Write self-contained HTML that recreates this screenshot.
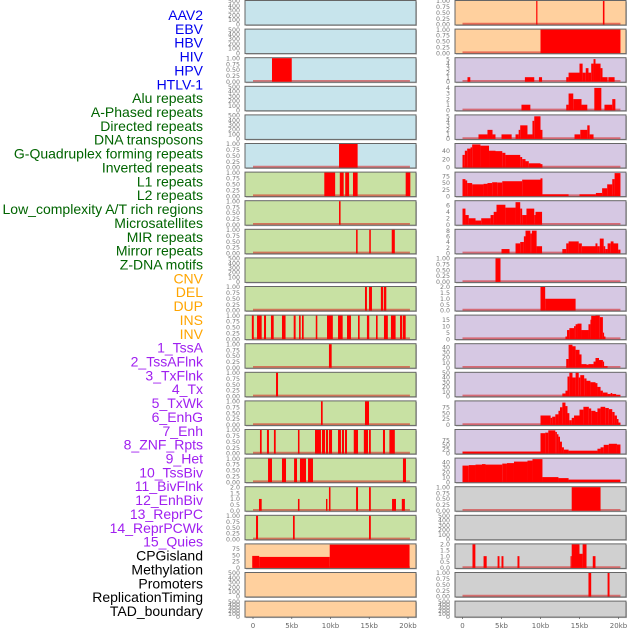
<!DOCTYPE html>
<html><head><meta charset="utf-8"><style>
html,body{margin:0;padding:0;background:#fff;width:630px;height:630px;overflow:hidden}
svg text{font-family:"DejaVu Sans","Liberation Sans",sans-serif}
svg text.lbl{font-family:"Liberation Sans",sans-serif}
</style></head><body>
<svg id="chart" width="630" height="630" viewBox="0 0 630 630" xmlns="http://www.w3.org/2000/svg">
<g id="labels"></g>
<g id="panels"></g>
<g id="xaxes"></g>
</svg>
<script>
// ---- labels ----
const trackLabels = ["AAV2","EBV","HBV","HIV","HPV","HTLV-1","Alu repeats","A-Phased repeats","Directed repeats","DNA transposons","G-Quadruplex forming repeats","Inverted repeats","L1 repeats","L2 repeats","Low_complexity A/T rich regions","Microsatellites","MIR repeats","Mirror repeats","Z-DNA motifs","CNV","DEL","DUP","INS","INV","1_TssA","2_TssAFlnk","3_TxFlnk","4_Tx","5_TxWk","6_EnhG","7_Enh","8_ZNF_Rpts","9_Het","10_TssBiv","11_BivFlnk","12_EnhBiv","13_ReprPC","14_ReprPCWk","15_Quies","CPGisland","Methylation","Promoters","ReplicationTiming","TAD_boundary"];
const labelGroups = [6,13,5,15,5];
const groupColors = ["#0000ee","#006400","#ffa500","#a020f0","#000000"];
const xTickValues = [0,5,10,15,20];
const xTickLabels = ["0","5kb","10kb","15kb","20kb"];

// ---- data: segments [startKb, endKb, value] ----
const L2 = [[2.45,5.0,1]];
const L5 = [[11.1,13.5,1]];
const L6 = [[9.2,10.6,1],[11.2,11.7,1],[11.9,12.4,1],[12.9,13.5,1],[19.7,20.3,1]];
const L7 = [[11.1,11.3,1]];
const L8 = [[13.3,13.5,1],[15.0,15.2,1],[17.9,18.3,1]];
const L10 = [[14.45,14.7,1],[14.97,15.35,1],[16.5,16.8,1],[16.9,17.2,1]];
const L11 = [[-0.15,0.1,1],[0.52,1.12,1],[1.42,1.68,1],[2.32,2.67,1],[3.74,4.2,1],[5.25,5.5,1],[5.94,6.15,1],[6.32,6.54,1],[8.1,8.3,1],[9.55,10.3,1],[10.97,11.57,1],[12.13,12.64,1],[13.55,13.76,1],[14.7,15.0,1],[15.87,16.08,1],[16.9,17.4,1],[17.8,18.4,1],[18.97,19.26,1],[19.35,19.7,1]];
const L12 = [[9.8,10.15,1]];
const L13 = [[2.97,3.23,1]];
const L14 = [[8.77,8.99,1],[14.45,14.97,1]];
const L15 = [[0.9,1.12,1],[1.8,2.06,1],[2.7,2.93,1],[5.8,6.0,1],[8.0,8.77,1],[8.9,9.3,1],[9.42,9.68,1],[9.8,10.2,1],[10.97,11.35,1],[11.48,11.74,1],[11.87,12.13,1],[13.0,13.55,1],[14.3,14.84,1],[14.97,15.2,1],[16.77,17.03,1],[17.6,18.3,1]];
const L16 = [[1.94,2.45,1],[3.74,4.26,1],[5.3,5.68,1],[6.06,6.84,1],[7.1,7.74,1],[19.35,19.74,1]];
const L17 = [[0.77,1.12,1],[5.8,6.0,1],[9.42,9.6,1],[9.8,10.0,2],[13.3,13.55,2],[14.97,15.2,2],[17.94,18.45,1],[19.2,19.6,1]];
const L18 = [[0.39,0.65,1],[5.16,5.38,1],[14.97,15.2,1]];
const L19 = [[-0.1,0.8,47],[0.8,9.9,43],[9.9,20.2,91]];
const R0 = [[9.45,9.57,1],[18.0,18.2,1]];
const R1 = [[10.0,20.25,1]];
const R2 = [[0.64,1.0,1],[8.0,9.2,1],[9.8,10.2,1],[13.3,13.6,1],[13.6,15.0,2],[15.0,15.4,4],[15.4,15.8,2],[15.8,16.15,3],[16.15,16.5,2],[16.5,16.8,4],[16.8,17.05,5],[17.05,17.7,4],[17.7,17.95,3],[17.95,18.6,1],[18.7,19.5,1]];
const R3 = [[7.56,8.7,1],[13.3,13.6,1],[13.6,14.2,3],[14.2,15.26,2],[15.26,16.0,1],[16.9,17.8,4],[18.2,19.2,1],[19.2,19.6,2]];
const R4 = [[2.05,3.2,1],[3.2,3.85,2],[3.85,4.23,1],[5.0,6.3,1],[6.8,7.2,1],[7.2,7.4,2],[7.4,8.33,3],[8.33,8.97,1],[8.97,9.2,4],[9.2,10.0,5],[10.0,10.25,2],[14.36,15.1,1],[15.1,16.0,2],[16.0,16.3,3],[16.3,16.8,1]];
const R5 = [[0,0.3,30],[0.3,0.6,40],[0.6,1.03,45],[1.03,1.24,48],[1.24,2.3,55],[2.3,3.4,52],[3.4,4.23,40],[4.23,5.1,39],[5.1,5.5,35],[5.5,7.4,30],[7.4,7.65,25],[7.65,8.08,20],[8.08,8.5,15],[8.5,10.0,10],[10.0,10.25,8]];
const R6 = [[0,0.38,65],[0.38,0.6,60],[0.6,1.24,50],[1.24,2.7,45],[2.7,3.2,47],[3.2,3.8,50],[3.8,4.45,53],[4.45,5.1,52],[5.1,7.65,57],[7.65,10.0,63],[10.0,10.25,68],[10.25,13.6,7],[15.0,17.1,7],[17.1,17.9,12],[17.9,18.55,30],[18.55,19.2,45],[19.2,19.5,65],[19.5,20.25,88]];
const R7 = [[0,0.38,5],[0.38,0.8,3],[0.8,1.67,2],[1.67,2.4,1.3],[2.4,3.6,2],[3.6,4.0,3],[4.0,4.36,4],[4.36,5.5,6.2],[5.5,6.8,5.3],[6.8,7.4,7],[7.4,7.65,5],[7.65,8.2,3],[8.2,9.2,5],[9.2,9.36,3],[9.36,10.2,4]];
const R8 = [[5.0,6.03,1.5],[6.8,7.4,3.5],[7.4,7.87,4],[7.87,8.08,6],[8.08,8.7,8],[8.7,8.9,7],[8.9,9.5,8],[9.5,10.2,2.5],[12.8,13.3,1.5],[13.3,13.6,3.5],[13.6,14.9,4.2],[14.9,15.3,3.5],[15.3,17.05,2.5],[17.05,17.3,3.5],[17.3,17.6,2.5],[17.6,18.1,5.2],[18.1,18.3,2.5],[18.3,18.6,1.5],[18.6,19.0,3.5],[19.0,19.36,4.2],[19.36,19.96,3.5],[19.96,20.25,1.3]];
const R9 = [[4.23,4.87,1]];
const R10 = [[10.0,10.6,2],[10.6,14.5,1]];
const R11 = [[13.2,13.4,2],[13.4,13.7,7],[13.7,14.3,8.5],[14.3,14.5,10],[14.5,14.74,11.5],[14.74,15.26,12],[15.26,16.15,7],[16.15,16.4,11.5],[16.4,16.5,15],[16.5,17.05,18],[17.05,17.6,18.5],[17.6,18.0,17],[18.0,18.1,5],[18.1,18.33,2]];
const R12 = [[13.3,13.6,17],[13.6,14.1,45],[14.1,14.5,42],[14.5,15.0,35],[15.0,15.26,26],[15.26,15.9,7],[15.9,16.15,6],[16.15,16.8,7],[16.8,17.05,12],[17.05,17.5,19],[17.5,18.0,15],[18.0,18.1,12],[18.1,18.6,3]];
const R13 = [[12.8,13.2,6],[13.2,13.46,12],[13.46,13.7,42],[13.7,14.1,50],[14.1,14.5,40],[14.5,14.9,50],[14.9,15.1,40],[15.1,15.6,45],[15.6,15.9,38],[15.9,16.4,33],[16.4,17.05,30],[17.05,17.3,28],[17.3,17.7,20],[17.7,18.0,12],[18.0,18.6,8],[18.6,19.0,5],[19.0,19.2,7],[19.2,19.7,5],[19.7,20.25,3]];
const R14 = [[10.0,11.3,40],[11.3,11.5,30],[11.5,11.9,35],[11.9,12.3,45],[12.3,12.5,60],[12.5,12.8,75],[12.8,13.2,95],[13.2,13.46,80],[13.46,13.7,50],[13.7,14.0,20],[14.0,14.3,30],[14.3,15.0,40],[15.0,15.5,65],[15.5,16.2,77],[16.2,16.5,70],[16.5,17.05,60],[17.05,17.3,55],[17.3,17.7,70],[17.7,18.3,77],[18.3,18.76,72],[18.76,19.2,67],[19.2,19.5,55],[19.5,19.8,40],[19.8,20.0,25],[20.0,20.25,10]];
const R15 = [[0,10.0,11],[10.0,10.6,115],[10.6,11.0,118],[11.0,11.9,131],[11.9,12.1,122],[12.1,12.3,109],[12.3,12.5,95],[12.5,12.75,67],[12.75,13.0,35],[13.0,13.6,22],[13.6,17.3,16],[17.3,17.7,27],[17.7,18.1,35],[18.1,18.76,49],[18.76,19.8,55],[19.8,20.25,51]];
const R16 = [[0,0.8,33],[0.8,1.67,34],[1.67,2.5,35],[2.5,2.95,36],[2.95,5.1,35],[5.1,5.7,37],[5.7,6.6,38],[6.6,8.33,41],[8.33,8.97,43],[8.97,10.25,46],[10.25,12.3,10],[12.3,13.6,8],[13.6,20.25,5]];
const R17 = [[14.0,17.7,1]];
const R19 = [[1.28,1.65,2],[2.7,3.1,1],[4.5,4.74,1],[5.0,5.25,1],[7.05,7.3,1],[13.85,14.0,1],[14.0,15.0,2],[15.0,15.4,1.2],[15.4,15.9,2],[16.7,17.05,1]];
const R20 = [[16.15,16.5,1],[18.6,18.85,1]];

const T500=[0,100,200,300,400,500], T1=[0,0.25,0.5,0.75,1], T2=[0,0.5,1,1.5,2];
const BLUE="#c7e4ec", GREEN="#c8e1a3", PEACH="#ffd09e", LAV="#d6c8e3", GRAY="#d0d0d0";
// side, row, bg, ymax, ticks, data
const panels = [
 ["L",0,BLUE,500,T500,null],["L",1,BLUE,500,T500,null],["L",2,BLUE,1,T1,L2],["L",3,BLUE,500,T500,null],
 ["L",4,BLUE,500,T500,null],["L",5,BLUE,1,T1,L5],["L",6,GREEN,1,T1,L6],["L",7,GREEN,1,T1,L7],
 ["L",8,GREEN,1,T1,L8],["L",9,GREEN,500,T500,null],["L",10,GREEN,1,T1,L10],["L",11,GREEN,1,T1,L11],
 ["L",12,GREEN,1,T1,L12],["L",13,GREEN,1,T1,L13],["L",14,GREEN,1,T1,L14],["L",15,GREEN,1,T1,L15],
 ["L",16,GREEN,1,T1,L16],["L",17,GREEN,2,T2,L17],["L",18,GREEN,1,T1,L18],["L",19,PEACH,92,[0,25,50,75],L19],
 ["L",20,PEACH,500,T500,null],["L",21,PEACH,500,T500,null],
 ["R",0,PEACH,1,T1,R0],["R",1,PEACH,1,T1,R1],["R",2,LAV,5.2,[0,1,2,3,4,5],R2],["R",3,LAV,4.2,[0,1,2,3,4],R3],
 ["R",4,LAV,5.2,[0,1,2,3,4,5],R4],["R",5,LAV,56,[0,20,40],R5],["R",6,LAV,90,[0,25,50,75],R6],["R",7,LAV,7.3,[0,2,4,6],R7],
 ["R",8,LAV,8.3,[0,2,4,6,8],R8],["R",9,LAV,1,T1,R9],["R",10,LAV,2,T2,R10],["R",11,LAV,18.2,[0,5,10,15],R11],
 ["R",12,LAV,46,[0,10,20,30,40],R12],["R",13,LAV,50,[0,10,20,30,40,50],R13],["R",14,LAV,100,[0,25,50,75],R14],["R",15,LAV,133,[0,25,50,75],R15],
 ["R",16,LAV,47,[0,10,20,30,40],R16],["R",17,GRAY,1,T1,R17],["R",18,GRAY,500,T500,null],["R",19,GRAY,2,T2,R19],
 ["R",20,GRAY,1,T1,R20],["R",21,GRAY,500,T500,null]
];

const NS="http://www.w3.org/2000/svg";
function mk(tag,attrs,parent){const e=document.createElementNS(NS,tag);for(const k in attrs)e.setAttribute(k,attrs[k]);parent.appendChild(e);return e;}
const sides={L:{x0:245,x1:416,k0:253,kpx:7.75},R:{x0:455,x1:626,k0:462.5,kpx:7.8}};
function xScale(side,kb){return sides[side].k0+kb*sides[side].kpx;}
function rowTop(r){return r===0?0.5:0.5+r*28.6;}
function rowH(r){return r===21?16:24.5;}
function fmt(v,ticks){const mx=ticks[ticks.length-1];if(mx===1)return v.toFixed(2);if(mx===2)return v.toFixed(1);return String(v);}

// labels
const lg=document.getElementById('labels');
let li=0;
labelGroups.forEach((n,gi)=>{for(let j=0;j<n;j++){
 const t=mk('text',{'class':'lbl',x:203,y:15+li*13.86+5,'text-anchor':'end','font-size':'14',fill:groupColors[gi]},lg);
 t.textContent=trackLabels[li];
 
 
 li++;}});

// panels
const pg=document.getElementById('panels');
panels.forEach(p=>{
 const [side,row,bg,ymax,ticks,data]=p;
 const S=sides[side], top=rowTop(row), h=rowH(row), bot=top+h;
 const g=mk('g',{},pg);
 
 
 mk('rect',{x:S.x0+1,y:top+1,width:S.x1-S.x0,height:h,fill:'#bbb'},g);
 mk('rect',{x:S.x0,y:top,width:S.x1-S.x0,height:h,fill:bg,stroke:'#666','stroke-width':1},g);
 const yS=v=>bot-0.5-(v/ymax)*(h-1);
 ticks.forEach(v=>{
  const t=mk('text',{x:S.x0-5,y:yS(v)+2.2,'text-anchor':'end','font-size':'6.3',fill:'#777'},g);
  t.textContent=fmt(v,ticks);
  
  
 });
 if(data){
  mk('line',{x1:xScale(side,0),x2:xScale(side,20.25),y1:bot-1.3,y2:bot-1.3,stroke:'rgba(215,30,30,0.55)','stroke-width':1.8},g);
  data.forEach(s=>{
   const x1=Math.max(S.x0+0.5,xScale(side,s[0])), x2=Math.min(S.x1-0.5,xScale(side,s[1]));
   const y=Math.max(top+0.5,yS(s[2]));
   const r=mk('rect',{x:x1,y:y,width:Math.max(1.2,x2-x1),height:bot-0.5-y,fill:'#ff0000'},g);
   
   
  });
 }
});

// x axes
const xg=document.getElementById('xaxes');
['L','R'].forEach(side=>{
 xTickValues.forEach((v,i)=>{
  const x=xScale(side,v);
  mk('line',{x1:x,x2:x,y1:617,y2:619,stroke:'#666','stroke-width':0.8},xg);
  const t=mk('text',{x:x,y:628,'text-anchor':'middle','font-size':'7',fill:'#666'},xg);
  t.textContent=xTickLabels[i];
  
  
 });
});
</script>
</body></html>
